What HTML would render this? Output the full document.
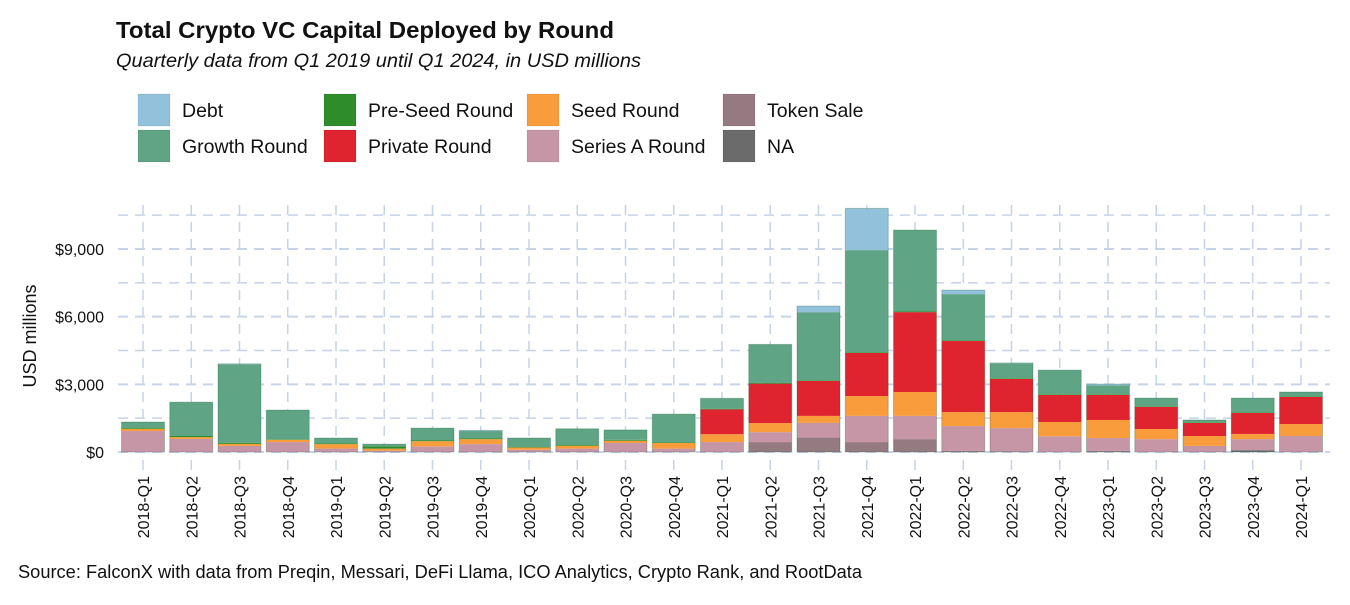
<!DOCTYPE html>
<html><head><meta charset="utf-8">
<style>
html,body{margin:0;padding:0;background:#fff;}
body{width:1350px;height:600px;overflow:hidden;font-family:"Liberation Sans",Arial,sans-serif;}
svg text{font-family:"Liberation Sans",Arial,sans-serif;}
</style></head>
<body>
<svg id="chart" width="1350" height="600" xmlns="http://www.w3.org/2000/svg">
<text x="116" y="38" font-size="23" font-weight="bold" fill="#111" textLength="498" lengthAdjust="spacingAndGlyphs">Total Crypto VC Capital Deployed by Round</text>
<text x="116" y="67" font-size="19" font-style="italic" fill="#111" textLength="525" lengthAdjust="spacingAndGlyphs">Quarterly data from Q1 2019 until Q1 2024, in USD millions</text>
<g id="legend"></g>
<g id="grid"></g>
<g id="bars"></g>
<g id="yaxis"></g>
<g id="xaxis"></g>
<text transform="translate(36,336) rotate(-90)" text-anchor="middle" font-size="18" fill="#111">USD millions</text>
<text x="18" y="578" font-size="18" fill="#111" textLength="844" lengthAdjust="spacingAndGlyphs">Source: FalconX with data from Preqin, Messari, DeFi Llama, ICO Analytics, Crypto Rank, and RootData</text>
</svg>
<script>
const categories = ["2018-Q1","2018-Q2","2018-Q3","2018-Q4","2019-Q1","2019-Q2","2019-Q3","2019-Q4","2020-Q1","2020-Q2","2020-Q3","2020-Q4","2021-Q1","2021-Q2","2021-Q3","2021-Q4","2022-Q1","2022-Q2","2022-Q3","2022-Q4","2023-Q1","2023-Q2","2023-Q3","2023-Q4","2024-Q1"];
const naVals      = [0,0,0,0,0,0,0,0,0,0,0,0,0,0,0,0,0,0,0,0,0,0,0,80,0];
const tokenVals   = [0,0,0,0,0,0,0,0,0,0,0,0,0,440,640,440,570,50,20,0,50,0,0,0,0];
const seriesAVals = [930,580,270,440,150,60,250,350,100,150,400,150,440,440,650,1160,1030,1100,1040,700,570,570,270,490,710];
const seedVals    = [100,80,90,100,200,90,230,220,100,130,100,250,350,400,310,880,1060,620,710,630,800,450,440,230,530];
const privateVals = [0,0,0,0,0,0,0,0,0,0,0,0,1100,1750,1550,1910,3540,3150,1470,1200,1110,980,580,930,1200];
const preSeedVals = [50,50,50,20,40,100,30,30,20,30,40,20,30,30,30,30,30,30,30,30,30,30,30,30,30];
const growthVals  = [250,1500,3480,1300,230,100,550,330,400,720,440,1260,460,1710,3020,4530,3610,2050,660,1070,400,360,100,630,190];
const debtVals    = [0,0,20,0,0,0,0,30,0,0,0,0,0,0,270,1850,0,180,20,0,50,0,0,0,0];
const yTicks = [0,3000,6000,9000];
const yTickLabels = ["$0","$3,000","$6,000","$9,000"];

const seriesNames = ["NA","Token Sale","Series A Round","Seed Round","Private Round","Pre-Seed Round","Growth Round","Debt"];
const seriesData = [naVals,tokenVals,seriesAVals,seedVals,privateVals,preSeedVals,growthVals,debtVals];
const seriesColors = ["#6b6b6b","#957a82","#c796a6","#f99c3c","#e0242f","#2f8c2b","#5fa585","#92c1dc"];
const seriesKeys = ["na","token-sale","series-a","seed","private","pre-seed","growth","debt"];

const NS="http://www.w3.org/2000/svg";
const plotL=118, plotR=1330, plotT=205, y0px=452, pxPerUnit=203/9000;
const firstX=143, stepX=(1301-143)/24, barW=43;
const yScale=v=>y0px-v*pxPerUnit;
const xScale=i=>firstX+i*stepX;
function mk(tag,attrs,parent){const e=document.createElementNS(NS,tag);for(const k in attrs)e.setAttribute(k,attrs[k]);parent.appendChild(e);return e;}

const grid=document.getElementById('grid');
for(let v=0; v<=10500; v+=1500){
  const l=mk('line',{x1:plotL,x2:plotR,y1:yScale(v),y2:yScale(v),stroke:'#c6d3e8','stroke-width':v%3000===0?2:1.5,'stroke-dasharray':'10,7'},grid);
  
  
}
categories.forEach((c,i)=>{
  const l=mk('line',{x1:xScale(i),x2:xScale(i),y1:plotT,y2:470,stroke:'#c6d3e8','stroke-width':1.5,'stroke-dasharray':'10,7'},grid);
  
  
});

const bars=document.getElementById('bars');
categories.forEach((c,i)=>{
  let cum=0;
  seriesData.forEach((arr,s)=>{
    const v=arr[i]; if(!v) return;
    const yTop=yScale(cum+v), yBot=yScale(cum);
    const r=mk('rect',{x:xScale(i)-barW/2,y:yTop,width:barW,height:yBot-yTop,fill:seriesColors[s]},bars);
    
    
    cum+=v;
  });
  const o=mk('rect',{x:xScale(i)-barW/2,y:yScale(cum),width:barW,height:yScale(0)-yScale(cum),fill:'none',stroke:'rgba(0,80,40,0.25)','stroke-width':1},bars);
  
  
});

const yaxis=document.getElementById('yaxis');
yTicks.forEach((v,i)=>{
  const t=mk('text',{x:104,y:yScale(v)+6,'text-anchor':'end','font-size':16,fill:'#111'},yaxis);
  t.textContent=yTickLabels[i];
  
  
});
const xaxis=document.getElementById('xaxis');
categories.forEach((c,i)=>{
  const t=mk('text',{transform:`translate(${xScale(i)+6},476) rotate(-90)`,'text-anchor':'end','font-size':16,fill:'#111'},xaxis);
  t.textContent=c;
  
  
});

const legendItems=[["Debt","#92c1dc",138,94],["Growth Round","#5fa585",138,130],["Pre-Seed Round","#2f8c2b",324,94],["Private Round","#e0242f",324,130],["Seed Round","#f99c3c",527,94],["Series A Round","#c796a6",527,130],["Token Sale","#957a82",723,94],["NA","#6b6b6b",723,130]];
const legend=document.getElementById('legend');
legendItems.forEach(([name,col,x,y])=>{
  const g=mk('g',{},legend);
  
  
  mk('rect',{x:x,y:y,width:32,height:32,fill:col,stroke:'rgba(0,0,0,0.08)'},g);
  const t=mk('text',{x:x+44,y:y+23,'font-size':19.5,fill:'#111'},g);
  t.textContent=name;
});
</script>
</body></html>
